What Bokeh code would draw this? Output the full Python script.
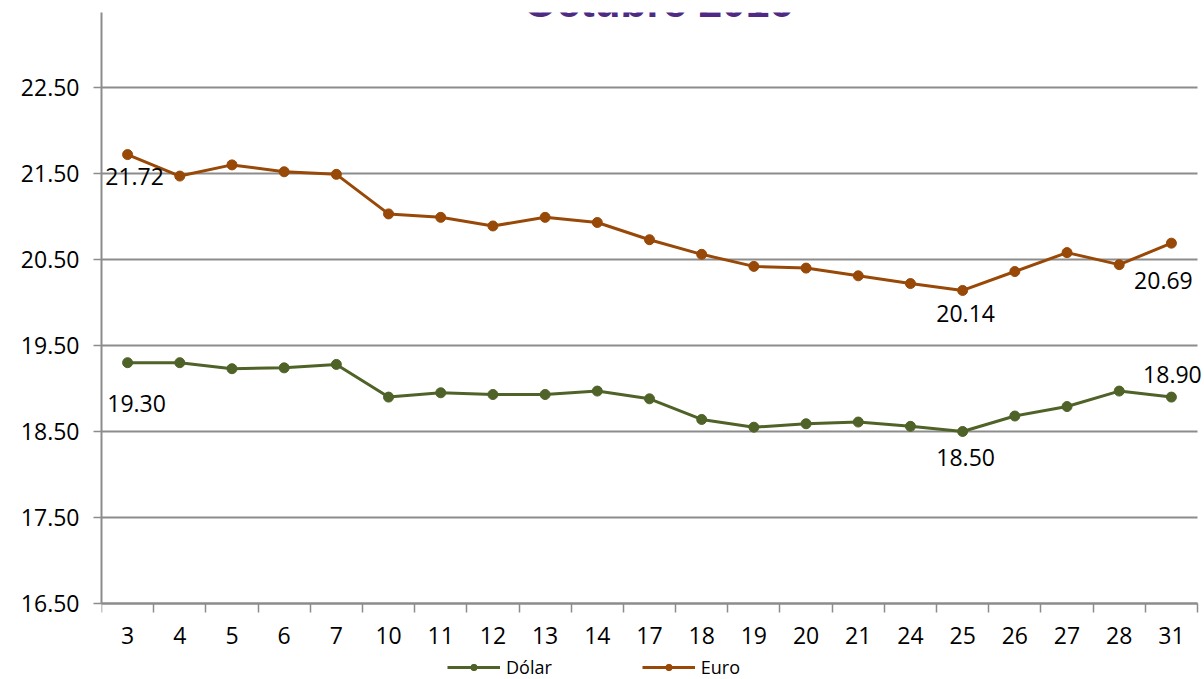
from bokeh.plotting import figure
from bokeh.models import (ColumnDataSource, FixedTicker, Legend, LegendItem, Label, LabelSet,
                          Range1d, NumeralTickFormatter)
from bokeh.embed import file_html
from bokeh.resources import INLINE
from bokeh.core.properties import value

# ---- data ----
days = ["3", "4", "5", "6", "7", "10", "11", "12", "13", "14", "17",
        "18", "19", "20", "21", "24", "25", "26", "27", "28", "31"]
dolar = [19.30, 19.30, 19.23, 19.24, 19.28, 18.90, 18.95, 18.93, 18.93, 18.97, 18.88,
         18.64, 18.55, 18.59, 18.61, 18.56, 18.50, 18.68, 18.79, 18.97, 18.90]
euro = [21.72, 21.47, 21.60, 21.52, 21.49, 21.03, 20.99, 20.89, 20.99, 20.93, 20.73,
        20.56, 20.42, 20.40, 20.31, 20.22, 20.14, 20.36, 20.58, 20.44, 20.69]
y_ticks = [16.5, 17.5, 18.5, 19.5, 20.5, 21.5, 22.5]
title_text = "Octubre 2016"
series_names = ["Dólar", "Euro"]
labeled_idx = [0, 16, 20]

FONT = "Open Sans"
C_DOLAR = "#4F6228"
C_EURO = "#984807"
GRID = "#8C8C8C"

Y_MIN, Y_TOP = 16.5, 23.372
PX_PER_UNIT = 86.0
BOTTOM_ROOM = 76   # pixels below the x axis for tick labels and legend
N = len(days)
PX_PER_DAY = 1096 / N
RIGHT_ROOM = 7     # pixels right of the last category (room for a data label)

xs = [i + 0.5 for i in range(N)]

p = figure(frame_width=1096 + RIGHT_ROOM, frame_height=591 + BOTTOM_ROOM,
           output_backend="svg", toolbar_location=None,
           x_range=Range1d(0, N + RIGHT_ROOM / PX_PER_DAY),
           y_range=Range1d(Y_MIN - BOTTOM_ROOM / PX_PER_UNIT, Y_TOP),
           min_border_left=101, min_border_right=0, min_border_top=12,
           min_border_bottom=0)
p.outline_line_color = None
p.background_fill_color = "white"
p.border_fill_color = "white"

# horizontal gridlines across the category span only
p.segment(x0=[0] * len(y_ticks), x1=[N] * len(y_ticks), y0=y_ticks, y1=y_ticks,
          line_color=GRID, line_width=2)
p.xgrid.grid_line_color = None
p.ygrid.grid_line_color = None

# axes
xa = p.xaxis[0]
xa.fixed_location = Y_MIN
xa.bounds = (0, N)
xa.ticker = FixedTicker(ticks=xs, minor_ticks=list(range(N + 1)))
xa.major_label_overrides = {x: d for x, d in zip(xs, days)}
xa.major_tick_line_color = None
xa.major_tick_out = 0
xa.major_tick_in = 0
xa.minor_tick_line_color = GRID
xa.minor_tick_line_width = 1.5
xa.minor_tick_out = 9
xa.minor_tick_in = 0
xa.axis_line_color = GRID
xa.axis_line_width = 2
xa.major_label_text_font = FONT
xa.major_label_text_font_size = "23px"
xa.major_label_text_color = "black"
xa.major_label_standoff = 15

ya = p.yaxis[0]
ya.bounds = (Y_MIN, Y_TOP)
ya.ticker = FixedTicker(ticks=y_ticks)
ya.formatter = NumeralTickFormatter(format="0.00")
ya.minor_tick_line_color = None
ya.major_tick_out = 8
ya.major_tick_in = 0
ya.major_tick_line_color = GRID
ya.major_tick_line_width = 1.5
ya.axis_line_color = GRID
ya.axis_line_width = 2
ya.major_label_text_font = FONT
ya.major_label_text_font_size = "23px"
ya.major_label_text_color = "black"
ya.major_label_standoff = 14

src = ColumnDataSource(dict(x=xs, dolar=dolar, euro=euro))
ld = p.line("x", "dolar", source=src, line_color=C_DOLAR, line_width=3)
sd = p.scatter("x", "dolar", source=src, size=10, fill_color=C_DOLAR, line_color=C_DOLAR)
le = p.line("x", "euro", source=src, line_color=C_EURO, line_width=3)
se = p.scatter("x", "euro", source=src, size=10, fill_color=C_EURO, line_color=C_EURO)

# data labels
lab = ColumnDataSource(dict(
    x=[xs[i] for i in labeled_idx] + [xs[i] for i in labeled_idx],
    y=[euro[i] for i in labeled_idx] + [dolar[i] for i in labeled_idx],
    text=["%.2f" % euro[i] for i in labeled_idx] + ["%.2f" % dolar[i] for i in labeled_idx],
    xo=[7, 3, -8, 9, 3, 1],
    yo=[-22, -23, -37, -41, -26, 23],
))
p.add_layout(LabelSet(x="x", y="y", text="text", source=lab, x_offset="xo", y_offset="yo",
                      text_font=value(FONT), text_font_size=value("23px"),
                      text_color="black", text_align="center", text_baseline="middle"))

# title (cropped at the top like the reference)
p.add_layout(Label(x=10.67, y=23.49, text=title_text, text_font="Liberation Sans",
                   text_font_style="bold", text_font_size="42.5px", text_color="#4E2A84",
                   text_align="center", text_baseline="alphabetic"))

legend = Legend(items=[LegendItem(label=series_names[0], renderers=[ld, sd]),
                       LegendItem(label=series_names[1], renderers=[le, se])],
                orientation="horizontal", location=(346, 0),
                label_text_font=FONT, label_text_font_size="18px",
                label_text_color="black",
                glyph_width=53, glyph_height=16, label_height=16, label_standoff=6,
                spacing=90, padding=0, margin=0, border_line_color=None,
                background_fill_alpha=0)
p.add_layout(legend, "center")

open("out.html", "w").write(file_html(p, INLINE))
